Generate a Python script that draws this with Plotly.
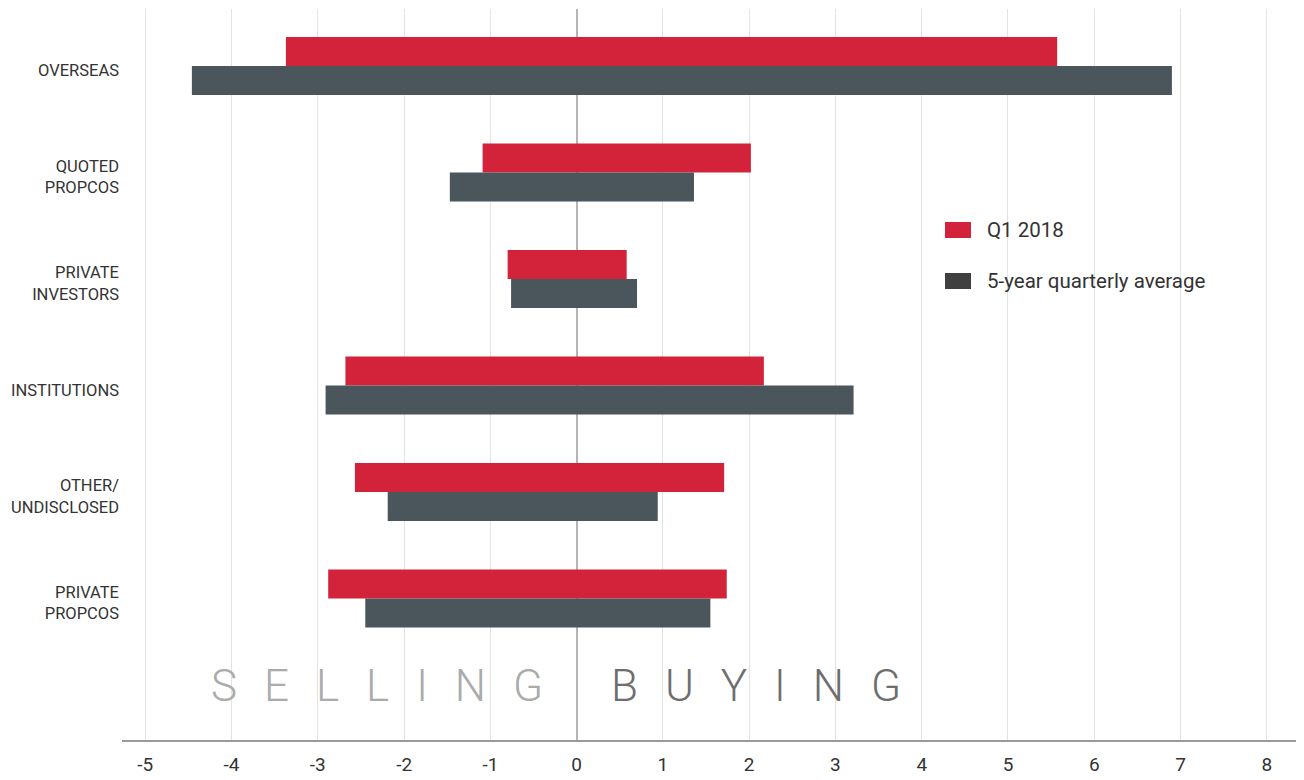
import plotly.graph_objects as go

categories = ["OVERSEAS", "QUOTED<br>PROPCOS", "PRIVATE<br>INVESTORS", "INSTITUTIONS",
              "OTHER/<br>UNDISCLOSED", "PRIVATE<br>PROPCOS"]
positions = [0, 1, 2, 3, 4, 5]

q1_sell = [-3.37, -1.09, -0.80, -2.68, -2.57, -2.88]
q1_buy = [5.57, 2.02, 0.58, 2.17, 1.71, 1.74]
avg_sell = [-4.46, -1.47, -0.76, -2.91, -2.19, -2.45]
avg_buy = [6.90, 1.36, 0.70, 3.21, 0.94, 1.55]

x_ticks = list(range(-5, 9))

RED = "#D2233A"
GREY = "#4A555C"
FONT = "Roboto"

W, H = 1296, 772
ML, MR, MT, MB = 114, 7, 1, 40
PW, PH = W - ML - MR, H - MT - MB

fig = go.Figure()
fig.add_trace(go.Bar(
    y=positions, x=[b - s for s, b in zip(q1_sell, q1_buy)], base=q1_sell,
    orientation="h", marker=dict(color=RED, line=dict(width=0)),
    name="Q1 2018", offsetgroup="q1", showlegend=False))
fig.add_trace(go.Bar(
    y=positions, x=[b - s for s, b in zip(avg_sell, avg_buy)], base=avg_sell,
    orientation="h", marker=dict(color=GREY, line=dict(width=0)),
    name="5-year quarterly average", offsetgroup="avg", showlegend=False))

label_shift = 0.04  # category labels sit slightly below bar-pair centres
fig.update_layout(
    width=W, height=H,
    margin=dict(l=ML, r=MR, t=MT, b=MB),
    paper_bgcolor="white", plot_bgcolor="white",
    barmode="group", bargap=0.455, bargroupgap=0,
    font=dict(family=FONT, color="#333333"),
    xaxis=dict(range=[-5.27, 8.35], tickvals=x_ticks, ticktext=[str(v) for v in x_ticks],
               showgrid=True, gridcolor="#E3E3E3", gridwidth=1,
               zeroline=True, zerolinecolor="#B5B5B5", zerolinewidth=2,
               showline=True, linecolor="#9A9A9A", linewidth=2,
               ticks="", tickfont=dict(size=19, color="#333333"),
               ticklabelstandoff=6),
    yaxis=dict(range=[6.33, -0.536], tickvals=[p + label_shift for p in positions],
               ticktext=categories,
               showgrid=False, zeroline=False, showline=False, ticks="",
               tickfont=dict(size=16.5, color="#333333"), ticklabelstandoff=2),
)

# custom legend (screen coords offset by the 8px page margin)
legend_items = [("Q1 2018", RED, 230), ("5-year quarterly average", "#404040", 281)]
for label, color, ypx in legend_items:
    yp = 1 - (ypx - 8 - MT) / PH
    fig.add_shape(type="rect", xref="paper", yref="paper",
                  x0=(945 - 8 - ML) / PW, x1=(971 - 8 - ML) / PW,
                  y0=yp - 8 / PH, y1=yp + 8 / PH,
                  fillcolor=color, line=dict(width=0))
    fig.add_annotation(xref="paper", yref="paper", x=(985 - 8 - ML) / PW, y=yp,
                       text=label, showarrow=False, xanchor="left", yanchor="middle",
                       font=dict(size=20.5, color="#333333", family=FONT))

sp = "\u2002\u200a"
fig.add_annotation(x=-0.37, y=5.82, xref="x", yref="y", text=sp.join("SELLING"),
                   showarrow=False, xanchor="right", yanchor="middle",
                   font=dict(size=44, color="#ABABAB", family=FONT, weight=300))
fig.add_annotation(x=0.38, y=5.82, xref="x", yref="y", text=sp.join("BUYING"),
                   showarrow=False, xanchor="left", yanchor="middle",
                   font=dict(size=44, color="#6E6E6E", family=FONT, weight=300))

fig.write_html("out.html")
